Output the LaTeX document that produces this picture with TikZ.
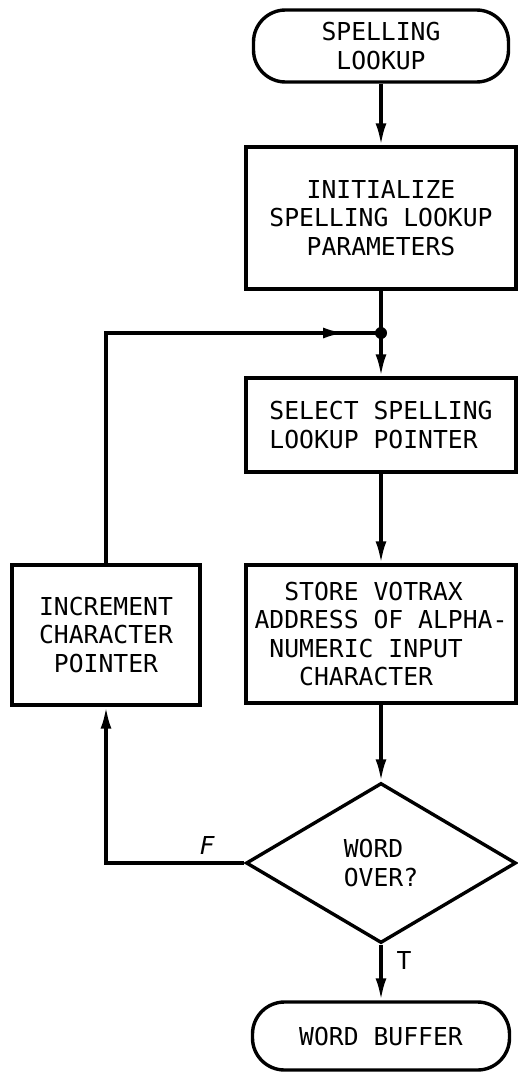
\documentclass[tikz,border=0pt]{standalone}
\usepackage{fontspec}
\setmonofont{DejaVu Sans Mono}
\usetikzlibrary{shapes.geometric,arrows.meta}
\newcommand\flowfont{\ttfamily\fontsize{24.7}{28.5}\selectfont}
\begin{document}
\begin{tikzpicture}[x=1pt,y=1pt,line width=3.4pt,
  box/.style={draw,rectangle,inner sep=0pt,font=\flowfont,align=center},
  term/.style={draw,rectangle,rounded corners=32pt,inner sep=0pt,font=\flowfont,align=center},
  dec/.style={draw,diamond,inner sep=0pt,font=\flowfont,align=left},
  arr/.style={-{Latex[length=22pt,width=11pt]}},
  lab/.style={font=\flowfont,inner sep=0pt}]
\useasboundingbox (0,0) rectangle (517,-1073);

\node[term,minimum width=255pt,minimum height=72pt] (start) at (381,-46) {SPELLING\\LOOKUP};
\node[box,minimum width=270pt,minimum height=142pt] (init) at (381,-218) {INITIALIZE\\SPELLING LOOKUP\\PARAMETERS};
\node[box,align=left,minimum width=270pt,minimum height=94pt] (select) at (381,-425) {SELECT SPELLING\\LOOKUP POINTER};
\node[box,align=left,minimum width=270pt,minimum height=138pt] (store) at (381,-634)
  {\hphantom{XX}STORE VOTRAX\\ADDRESS OF ALPHA-\\\hphantom{X}NUMERIC INPUT\\\hphantom{XXX}CHARACTER};
\node[box,minimum width=188pt,minimum height=140pt] (inc) at (106,-635) {INCREMENT\\CHARACTER\\POINTER};
\node[dec,minimum width=270pt,minimum height=160pt] (dia) at (381,-863) {WORD\\OVER?};
\node[term,minimum width=257pt,minimum height=68pt] (wb) at (381,-1036) {WORD BUFFER};

\coordinate (j) at (381,-333);
\coordinate (ja) at (345,-333);

\draw[arr] (start) -- (init);
\draw (init.south) -- (j);
\draw[arr] (j) -- (select.north);
\fill (j) circle (6pt);
\draw[arr] (select) -- (store);
\draw[arr] (store) -- (dia);
\draw[arr] (dia.south) -- (wb.north);
\draw[arr] (dia.west) -| (inc.south);
\draw (inc.north) |- (j);
\draw[arr] (inc.north) |- (ja);

\node[lab,font=\flowfont\itshape] (f) at (207,-845) {F};
\node[lab] (t) at (404,-960) {T};
\end{tikzpicture}
\end{document}
